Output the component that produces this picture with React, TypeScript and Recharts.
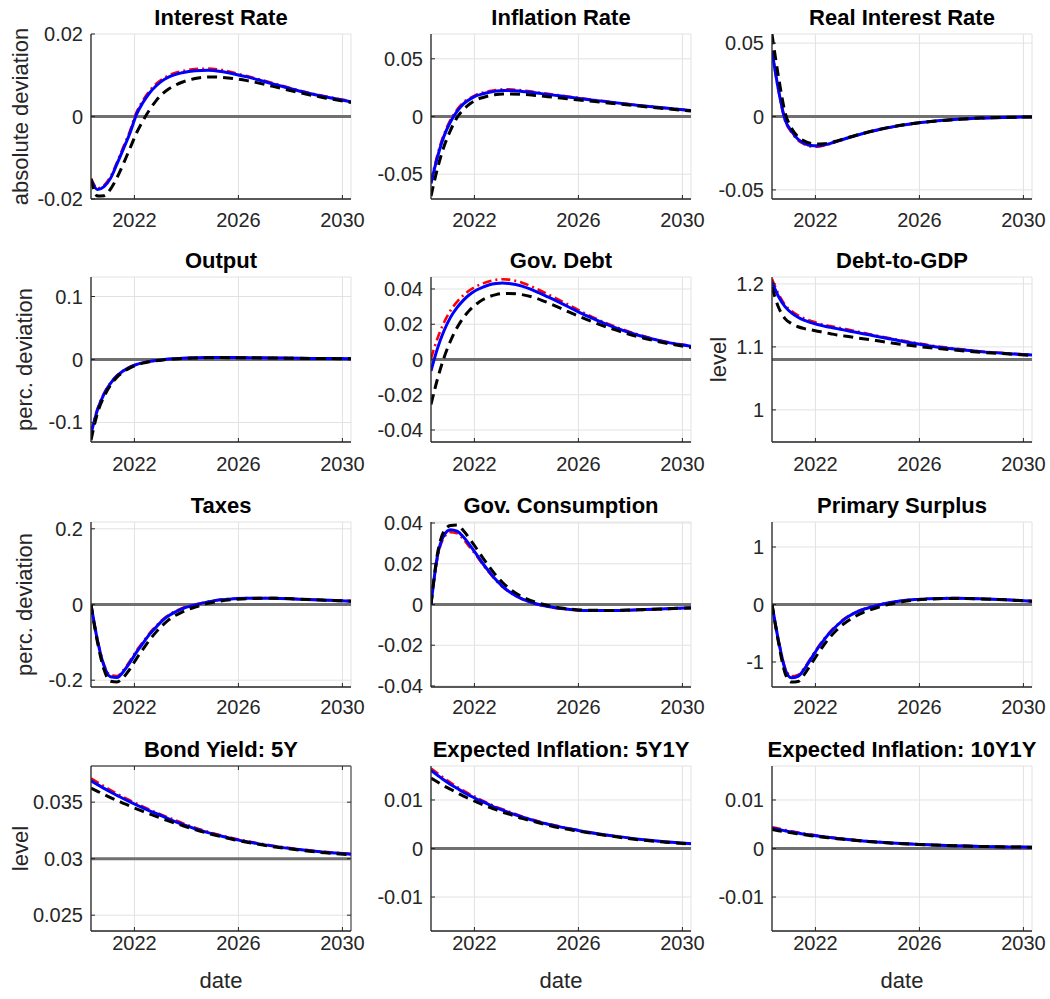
import React from 'react';
import { LineChart, Line, XAxis, YAxis, CartesianGrid, ReferenceLine } from 'recharts';

// quarterly-ish sample dates (decimal years)
const dates = [2020.33, 2020.58, 2020.83, 2021.08, 2021.33, 2021.58, 2021.83, 2022.08, 2022.33, 2022.58, 2022.83, 2023.08, 2023.33, 2023.83, 2024.33, 2024.83, 2025.33, 2025.83, 2026.33, 2027.33, 2028.33, 2029.33, 2030.33];
const xTicks = [2022, 2026, 2030];

const interestRed = [-0.0150, -0.0174, -0.0167, -0.0146, -0.0111, -0.0073, -0.0035, 0.0010, 0.0039, 0.0062, 0.0079, 0.0091, 0.0100, 0.0110, 0.0115, 0.0116, 0.0113, 0.0106, 0.0098, 0.0081, 0.0063, 0.0049, 0.0037];
const interestBlue = [-0.0153, -0.0177, -0.0170, -0.0150, -0.0115, -0.0078, -0.0040, 0.0005, 0.0034, 0.0057, 0.0074, 0.0087, 0.0096, 0.0106, 0.0111, 0.0112, 0.0109, 0.0103, 0.0096, 0.0079, 0.0062, 0.0048, 0.0036];
const interestBlack = [-0.0152, -0.0193, -0.0192, -0.0176, -0.0148, -0.0114, -0.0077, -0.0040, -0.0010, 0.0016, 0.0038, 0.0055, 0.0067, 0.0083, 0.0092, 0.0096, 0.0095, 0.0092, 0.0087, 0.0073, 0.0058, 0.0045, 0.0034];

const inflationRed = [-0.057, -0.033, -0.0155, -0.003, 0.0058, 0.0122, 0.016, 0.019, 0.0207, 0.022, 0.023, 0.0235, 0.0235, 0.0226, 0.0212, 0.0197, 0.0182, 0.0166, 0.0151, 0.0124, 0.0097, 0.0074, 0.0053];
const inflationBlue = [-0.058, -0.035, -0.017, -0.0045, 0.0045, 0.011, 0.015, 0.018, 0.0197, 0.021, 0.022, 0.0226, 0.0226, 0.0217, 0.0205, 0.0191, 0.0177, 0.0162, 0.0148, 0.0122, 0.0096, 0.0073, 0.0052];
const inflationBlack = [-0.069, -0.045, -0.026, -0.012, -0.001, 0.006, 0.011, 0.0145, 0.0165, 0.018, 0.019, 0.0195, 0.0196, 0.0192, 0.0183, 0.0172, 0.016, 0.0148, 0.0136, 0.0113, 0.009, 0.0068, 0.0048];

const realRed = [0.045, 0.0178, -0.0025, -0.0108, -0.0162, -0.019, -0.0204, -0.0205, -0.0198, -0.0186, -0.0171, -0.0157, -0.0142, -0.0117, -0.0095, -0.0076, -0.006, -0.0047, -0.0037, -0.0022, -0.0012, -0.0006, -0.0003];
const realBlue = [0.0445, 0.018, -0.002, -0.010, -0.0155, -0.0183, -0.0198, -0.0200, -0.0194, -0.0183, -0.0169, -0.0155, -0.0141, -0.0116, -0.0094, -0.0075, -0.0059, -0.0046, -0.0036, -0.0021, -0.0011, -0.0006, -0.0003];
const realBlack = [0.056, 0.027, 0.003, -0.008, -0.0138, -0.0168, -0.0183, -0.0188, -0.0186, -0.0178, -0.0166, -0.0153, -0.014, -0.0115, -0.0093, -0.0074, -0.0058, -0.0046, -0.0036, -0.0021, -0.0011, -0.0006, -0.0003];

const outputRed = [-0.116, -0.078, -0.054, -0.037, -0.0255, -0.0175, -0.0118, -0.0078, -0.0049, -0.0029, -0.0014, -0.0002, 0.0008, 0.0019, 0.0027, 0.0031, 0.0032, 0.0031, 0.0029, 0.0025, 0.0021, 0.0017, 0.0013];
const outputBlue = [-0.118, -0.080, -0.055, -0.038, -0.026, -0.018, -0.012, -0.008, -0.005, -0.003, -0.0015, -0.0003, 0.0007, 0.0018, 0.0026, 0.003, 0.0031, 0.003, 0.0028, 0.0024, 0.002, 0.0016, 0.0013];
const outputBlack = [-0.128, -0.085, -0.059, -0.041, -0.028, -0.0195, -0.0133, -0.009, -0.0058, -0.0036, -0.002, -0.0008, 0.0003, 0.0015, 0.0024, 0.0028, 0.003, 0.0029, 0.0027, 0.0023, 0.0019, 0.0015, 0.0012];

const govDebtRed = [0.0005, 0.012, 0.021, 0.0278, 0.0327, 0.0365, 0.0394, 0.0416, 0.0432, 0.0444, 0.0452, 0.0455, 0.0453, 0.0436, 0.0405, 0.037, 0.0333, 0.0294, 0.0256, 0.0191, 0.014, 0.0102, 0.0077];
const govDebtBlue = [-0.0065, 0.0063, 0.0163, 0.0239, 0.0294, 0.0337, 0.037, 0.0394, 0.0411, 0.0424, 0.0431, 0.0434, 0.0431, 0.0416, 0.0388, 0.0355, 0.032, 0.0283, 0.0247, 0.0185, 0.0136, 0.01, 0.0075];
const govDebtBlack = [-0.0255, -0.011, 0.001, 0.0105, 0.018, 0.0238, 0.0282, 0.0315, 0.034, 0.0357, 0.0368, 0.0374, 0.0375, 0.0368, 0.035, 0.0322, 0.029, 0.0257, 0.0226, 0.0172, 0.0128, 0.0094, 0.0068];

const debtGdpRed = [1.208, 1.184, 1.167, 1.157, 1.15, 1.145, 1.141, 1.138, 1.135, 1.133, 1.131, 1.129, 1.127, 1.1225, 1.118, 1.114, 1.11, 1.1065, 1.103, 1.0975, 1.093, 1.09, 1.0875];
const debtGdpBlue = [1.203, 1.18, 1.164, 1.154, 1.147, 1.142, 1.1385, 1.1355, 1.133, 1.131, 1.129, 1.127, 1.125, 1.121, 1.117, 1.113, 1.109, 1.1055, 1.102, 1.0965, 1.0925, 1.0895, 1.087];
const debtGdpBlack = [1.195, 1.163, 1.145, 1.137, 1.132, 1.129, 1.127, 1.125, 1.123, 1.121, 1.119, 1.1175, 1.116, 1.113, 1.11, 1.107, 1.104, 1.1015, 1.099, 1.095, 1.0915, 1.089, 1.0865];

const taxesRed = [0, -0.093, -0.159, -0.187, -0.189, -0.173, -0.149, -0.122, -0.099, -0.076, -0.057, -0.04, -0.027, -0.01, 0.0, 0.0078, 0.013, 0.0155, 0.017, 0.017, 0.0142, 0.0117, 0.009];
const taxesBlue = [0, -0.095, -0.162, -0.191, -0.193, -0.177, -0.153, -0.126, -0.102, -0.079, -0.06, -0.042, -0.029, -0.0115, -0.001, 0.007, 0.0124, 0.015, 0.0168, 0.0168, 0.014, 0.0115, 0.0088];
const taxesBlack = [0, -0.1, -0.172, -0.203, -0.205, -0.192, -0.17, -0.143, -0.118, -0.094, -0.073, -0.055, -0.04, -0.02, -0.007, 0.003, 0.0095, 0.013, 0.0155, 0.0165, 0.0142, 0.0115, 0.0088];

const govConsRed = [0, 0.023, 0.033, 0.0355, 0.035, 0.032, 0.028, 0.024, 0.0195, 0.0155, 0.0118, 0.0087, 0.0062, 0.0027, 0.0004, -0.0011, -0.0021, -0.0027, -0.0031, -0.0031, -0.0027, -0.0022, -0.0017];
const govConsBlue = [0, 0.024, 0.034, 0.0367, 0.036, 0.0331, 0.029, 0.0246, 0.02, 0.0159, 0.0121, 0.0089, 0.0064, 0.0028, 0.0005, -0.001, -0.002, -0.0026, -0.003, -0.003, -0.0026, -0.0021, -0.0016];
const govConsBlack = [0, 0.025, 0.036, 0.0388, 0.039, 0.0362, 0.032, 0.0275, 0.0228, 0.0184, 0.0143, 0.0108, 0.008, 0.0038, 0.0012, -0.0005, -0.0017, -0.0024, -0.0028, -0.0029, -0.0026, -0.0021, -0.0017];

const surplusRed = [0, -0.62, -1.1, -1.25, -1.225, -1.1, -0.925, -0.755, -0.6, -0.468, -0.355, -0.258, -0.183, -0.082, -0.019, 0.032, 0.066, 0.089, 0.1, 0.111, 0.1, 0.082, 0.059];
const surplusBlue = [0, -0.63, -1.12, -1.275, -1.25, -1.12, -0.945, -0.77, -0.615, -0.48, -0.365, -0.267, -0.19, -0.087, -0.023, 0.029, 0.064, 0.087, 0.099, 0.11, 0.099, 0.081, 0.058];
const surplusBlack = [0, -0.66, -1.19, -1.35, -1.34, -1.21, -1.04, -0.865, -0.7, -0.56, -0.44, -0.34, -0.26, -0.14, -0.06, 0.005, 0.048, 0.076, 0.092, 0.106, 0.098, 0.081, 0.058];

const bond5Red = [0.0371, 0.03675, 0.0364, 0.03607, 0.03575, 0.03544, 0.03515, 0.03487, 0.0346, 0.03434, 0.03409, 0.03385, 0.03362, 0.03316, 0.03274, 0.03238, 0.03207, 0.03179, 0.03155, 0.03115, 0.03084, 0.0306, 0.03042];
const bond5Blue = [0.0369, 0.03655, 0.03622, 0.0359, 0.0356, 0.0353, 0.03502, 0.03475, 0.03449, 0.03424, 0.034, 0.03377, 0.0335, 0.03305, 0.03265, 0.0323, 0.032, 0.03173, 0.0315, 0.03111, 0.03081, 0.03057, 0.0304];
const bond5Black = [0.03625, 0.03596, 0.03568, 0.03541, 0.03515, 0.0349, 0.03465, 0.03441, 0.03418, 0.03396, 0.03374, 0.03353, 0.03333, 0.03294, 0.03257, 0.03224, 0.03195, 0.03168, 0.03145, 0.03106, 0.03076, 0.03052, 0.03035];

const inf5Red = [0.0165, 0.0155, 0.0145, 0.0136, 0.0127, 0.0119, 0.0112, 0.0105, 0.0098, 0.0092, 0.0086, 0.0081, 0.0076, 0.0066, 0.0058, 0.0051, 0.0045, 0.0039, 0.0034, 0.0026, 0.0019, 0.0014, 0.001];
const inf5Blue = [0.0161, 0.0151, 0.0141, 0.0132, 0.0124, 0.0116, 0.0109, 0.0102, 0.0096, 0.009, 0.0084, 0.0079, 0.0074, 0.0065, 0.0057, 0.005, 0.0044, 0.0039, 0.0034, 0.0026, 0.0019, 0.0014, 0.001];
const inf5Black = [0.0145, 0.0137, 0.0129, 0.0122, 0.0115, 0.0108, 0.0102, 0.0096, 0.009, 0.0085, 0.008, 0.0075, 0.0071, 0.0062, 0.0055, 0.0048, 0.0042, 0.0037, 0.0033, 0.0025, 0.0018, 0.0013, 0.0009];

const inf10Red = [0.0044, 0.0041, 0.0038, 0.00354, 0.0033, 0.00307, 0.00286, 0.00266, 0.00247, 0.0023, 0.00214, 0.00199, 0.00185, 0.0016, 0.00138, 0.00119, 0.00103, 0.00089, 0.00077, 0.00058, 0.00044, 0.00034, 0.00027];
const inf10Blue = [0.0042, 0.0039, 0.00365, 0.0034, 0.00318, 0.00296, 0.00277, 0.00258, 0.0024, 0.00224, 0.00208, 0.00194, 0.0018, 0.00156, 0.00135, 0.00117, 0.00101, 0.00088, 0.00076, 0.00057, 0.00043, 0.00033, 0.00026];
const inf10Black = [0.0039, 0.00366, 0.00344, 0.00322, 0.00302, 0.00283, 0.00265, 0.00248, 0.00232, 0.00217, 0.00202, 0.00189, 0.00176, 0.00153, 0.00133, 0.00115, 0.001, 0.00087, 0.00075, 0.00056, 0.00043, 0.00033, 0.00026];

const panels = [
  { title: 'Interest Rate', yLabel: 'absolute deviation', red: interestRed, blue: interestBlue, black: interestBlack, domain: [-0.02, 0.02], ticks: [-0.02, 0, 0.02], base: 0 },
  { title: 'Inflation Rate', red: inflationRed, blue: inflationBlue, black: inflationBlack, domain: [-0.0715, 0.0715], ticks: [-0.05, 0, 0.05], base: 0 },
  { title: 'Real Interest Rate', red: realRed, blue: realBlue, black: realBlack, domain: [-0.0562, 0.0562], ticks: [-0.05, 0, 0.05], base: 0 },
  { title: 'Output', yLabel: 'perc. deviation', red: outputRed, blue: outputBlue, black: outputBlack, domain: [-0.131, 0.131], ticks: [-0.1, 0, 0.1], base: 0 },
  { title: 'Gov. Debt', red: govDebtRed, blue: govDebtBlue, black: govDebtBlack, domain: [-0.0468, 0.0468], ticks: [-0.04, -0.02, 0, 0.02, 0.04], base: 0 },
  { title: 'Debt-to-GDP', yLabel: 'level', red: debtGdpRed, blue: debtGdpBlue, black: debtGdpBlack, domain: [0.949, 1.211], ticks: [1, 1.1, 1.2], base: 1.08 },
  { title: 'Taxes', yLabel: 'perc. deviation', red: taxesRed, blue: taxesBlue, black: taxesBlack, domain: [-0.218, 0.218], ticks: [-0.2, 0, 0.2], base: 0 },
  { title: 'Gov. Consumption', red: govConsRed, blue: govConsBlue, black: govConsBlack, domain: [-0.0405, 0.0405], ticks: [-0.04, -0.02, 0, 0.02, 0.04], base: 0 },
  { title: 'Primary Surplus', red: surplusRed, blue: surplusBlue, black: surplusBlack, domain: [-1.435, 1.435], ticks: [-1, 0, 1], base: 0 },
  { title: 'Bond Yield: 5Y', yLabel: 'level', xLabel: 'date', box: true, red: bond5Red, blue: bond5Blue, black: bond5Black, domain: [0.0236, 0.0382], ticks: [0.025, 0.03, 0.035], base: 0.03 },
  { title: 'Expected Inflation: 5Y1Y', xLabel: 'date', red: inf5Red, blue: inf5Blue, black: inf5Black, domain: [-0.017, 0.017], ticks: [-0.01, 0, 0.01], base: 0 },
  { title: 'Expected Inflation: 10Y1Y', xLabel: 'date', red: inf10Red, blue: inf10Blue, black: inf10Black, domain: [-0.017, 0.017], ticks: [-0.01, 0, 0.01], base: 0 },
];

// layout (plot areas, in page pixels)
const COL_LEFT = [91, 431, 772];
const ROW_TOP = [34, 277, 522, 766];
const ROW_TICK_DY = [28, 29, 26.5, 19];
const YLABEL_X = [[20, 0, 0], [24, 0, 718], [24, 0, 0], [20, 0, 0]];
const PW = 260;
const PH = 165;
const YW = 80;
const MT = 10;
const XH = 45;
const FONT = "'Liberation Sans', Arial, Helvetica, sans-serif";
const AXIS = '#262626';
const TICK_FS = 20;

function Panel({ p, row, col }: any) {
  const data = dates.map((t, i) => ({ t, red: p.red[i], blue: p.blue[i], black: p.black[i] }));
  const bottom = MT + PH;
  const tickDy = ROW_TICK_DY[row];
  const renderXTick = (props: any) => {
    const { x, payload } = props;
    return (
      <g>
        <line x1={x} x2={x} y1={bottom} y2={bottom - 4} stroke={AXIS} strokeWidth={1} />
        {p.box && <line x1={x} x2={x} y1={MT} y2={MT + 4} stroke={AXIS} strokeWidth={1} />}
        <text x={x} y={bottom + tickDy} textAnchor="middle" fill={AXIS} fontSize={TICK_FS} fontFamily={FONT}>{payload.value}</text>
      </g>
    );
  };
  const renderYTick = (props: any) => {
    const { y, payload } = props;
    return (
      <g>
        <line x1={YW} x2={YW + 4} y1={y} y2={y} stroke={AXIS} strokeWidth={1} />
        {p.box && <line x1={YW + PW - 4} x2={YW + PW} y1={y} y2={y} stroke={AXIS} strokeWidth={1} />}
        <text x={YW - 8} y={y} dy="0.35em" textAnchor="end" fill={AXIS} fontSize={TICK_FS} fontFamily={FONT}>{String(payload.value)}</text>
      </g>
    );
  };
  return (
    <div style={{ position: 'absolute', left: COL_LEFT[col] - YW, top: ROW_TOP[row] - MT }}>
      <LineChart width={YW + PW + 30} height={MT + PH + XH} data={data} margin={{ top: MT, right: 30, bottom: 0, left: 0 }}>
        <CartesianGrid stroke="#e2e2e2" strokeWidth={1} />
        <XAxis dataKey="t" type="number" domain={[2020.33, 2030.33]} allowDataOverflow ticks={xTicks} interval={0}
          height={XH} tickLine={false} axisLine={{ stroke: AXIS, strokeWidth: 1.3 }} tick={renderXTick} />
        <YAxis type="number" domain={p.domain} allowDataOverflow ticks={p.ticks} interval={0} width={YW}
          tickLine={false} axisLine={{ stroke: AXIS, strokeWidth: 1.3 }} tick={renderYTick} />
        {p.box && <ReferenceLine y={p.domain[1]} stroke="#5a5a5a" strokeWidth={1.3} />}
        {p.box && <ReferenceLine x={2030.33} stroke="#5a5a5a" strokeWidth={1.3} />}
        <ReferenceLine y={p.base} stroke="#707070" strokeWidth={3} />
        <Line type="monotone" dataKey="red" stroke="#ff0000" strokeWidth={2.6} strokeDasharray="9 4 2 4" dot={false} isAnimationActive={false} />
        <Line type="monotone" dataKey="blue" stroke="#0000ff" strokeWidth={3} dot={false} isAnimationActive={false} />
        <Line type="monotone" dataKey="black" stroke="#000000" strokeWidth={3} strokeDasharray="10 6" dot={false} isAnimationActive={false} />
      </LineChart>
    </div>
  );
}

export default function App() {
  return (
    <div style={{ position: 'absolute', left: 0, top: 0, width: 1050, height: 999, background: '#fff', fontFamily: FONT }}>
      {panels.map((p, i) => (
        <Panel key={p.title} p={p} row={Math.floor(i / 3)} col={i % 3} />
      ))}
      <svg width={1050} height={999} style={{ position: 'absolute', left: 0, top: 0, pointerEvents: 'none' }}>
        {panels.map((p, i) => {
          const row = Math.floor(i / 3);
          const col = i % 3;
          const cx = COL_LEFT[col] + PW / 2;
          const cy = ROW_TOP[row] + PH / 2;
          return (
            <g key={p.title}>
              <text x={cx} y={ROW_TOP[row] - 9.5} textAnchor="middle" fontSize={22} fontWeight="bold" fill="#000" fontFamily={FONT}>{p.title}</text>
              {p.yLabel && (
                <text x={YLABEL_X[row][col]} y={cy} transform={`rotate(-90 ${YLABEL_X[row][col]} ${cy})`} textAnchor="middle" dy="0.35em" fontSize={22} fill={AXIS} fontFamily={FONT}>{p.yLabel}</text>
              )}
              {p.xLabel && (
                <text x={cx} y={988} textAnchor="middle" fontSize={22} fill={AXIS} fontFamily={FONT}>{p.xLabel}</text>
              )}
            </g>
          );
        })}
      </svg>
    </div>
  );
}
